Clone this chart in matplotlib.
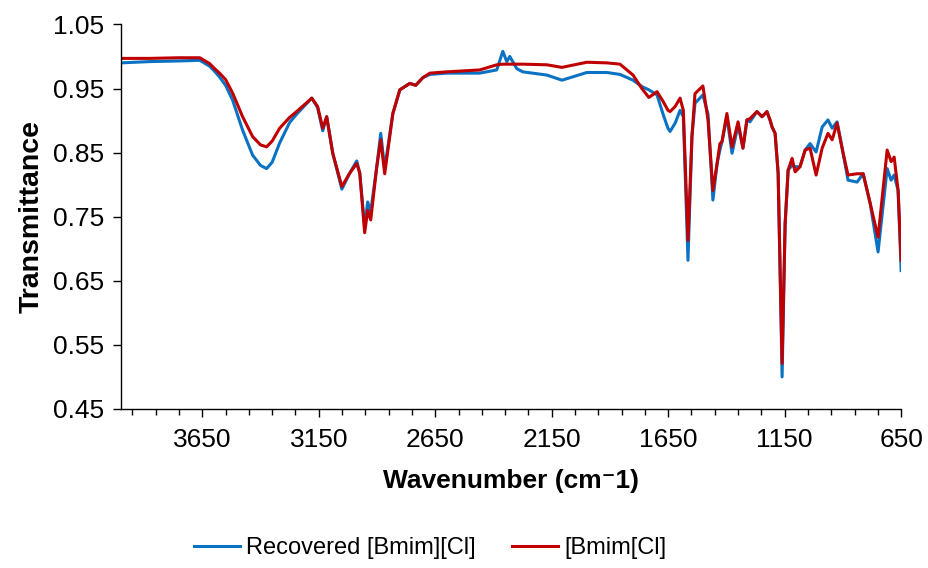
import matplotlib
matplotlib.use("Agg")
import matplotlib.pyplot as plt
from matplotlib.ticker import FixedLocator, FormatStrFormatter

plt.rcParams['font.family'] = ['Liberation Sans', 'DejaVu Sans']

wavenumber = [4000, 3876, 3750, 3661, 3619, 3600, 3576, 3550, 3520, 3477, 3434, 3400, 3374, 3350,
              3318, 3275,
              3245, 3180, 3155, 3133, 3116, 3090, 3051, 3017, 2987, 2974, 2953, 2940,
              2927, 2901, 2884, 2867, 2832, 2802, 2759, 2734, 2703, 2673, 2600, 2459,
              2386, 2360, 2343, 2330, 2300, 2274, 2171, 2106, 1999, 1913, 1857, 1801,
              1763, 1733, 1698, 1672, 1651, 1642, 1620, 1599, 1585, 1565, 1548, 1535,
              1501, 1479, 1458, 1440, 1428, 1419, 1398, 1376, 1350, 1329, 1312, 1299,
              1269, 1247, 1226, 1213, 1204, 1191, 1178, 1161, 1148, 1135, 1118, 1105,
              1084, 1062, 1041, 1015, 989, 964, 946, 925, 899, 878, 839, 813, 783, 749,
              710, 693, 680, 663, 650]

recovered = [0.990, 0.992, 0.993, 0.994, 0.985, 0.978, 0.968, 0.955, 0.932, 0.885, 0.846, 0.830,
             0.825, 0.835, 0.865, 0.897,
             0.910, 0.935, 0.920, 0.884, 0.906, 0.849, 0.793, 0.818, 0.837, 0.818, 0.734, 0.773,
             0.758, 0.828, 0.880, 0.825, 0.911, 0.948, 0.958, 0.955, 0.967, 0.972, 0.974, 0.974,
             0.979, 1.008, 0.992, 1.000, 0.981, 0.976, 0.971, 0.963, 0.975, 0.975, 0.972, 0.963,
             0.953, 0.948, 0.940, 0.910, 0.888, 0.883, 0.896, 0.916, 0.906, 0.682, 0.875, 0.927,
             0.940, 0.910, 0.776, 0.833, 0.854, 0.867, 0.906, 0.849, 0.893, 0.857, 0.901, 0.898,
             0.914, 0.906, 0.914, 0.901, 0.890, 0.880, 0.818, 0.500, 0.739, 0.823, 0.830, 0.828,
             0.828, 0.854, 0.864, 0.851, 0.890, 0.901, 0.888, 0.898, 0.849, 0.807, 0.804, 0.817,
             0.771, 0.695, 0.825, 0.807, 0.815, 0.791, 0.666]

bmim_cl = [0.997, 0.997, 0.998, 0.998, 0.989, 0.982, 0.974, 0.964, 0.943, 0.906, 0.875, 0.862,
           0.859, 0.868, 0.888, 0.905,
           0.914, 0.935, 0.922, 0.888, 0.906, 0.849, 0.797, 0.818, 0.833, 0.818, 0.725, 0.760,
           0.745, 0.828, 0.870, 0.817, 0.911, 0.948, 0.958, 0.955, 0.967, 0.974, 0.976, 0.979,
           0.987, 0.988, 0.988, 0.988, 0.988, 0.988, 0.987, 0.983, 0.991, 0.990, 0.988, 0.971,
           0.950, 0.936, 0.945, 0.930, 0.916, 0.914, 0.922, 0.935, 0.916, 0.713, 0.875, 0.942,
           0.954, 0.901, 0.791, 0.833, 0.864, 0.867, 0.911, 0.859, 0.898, 0.857, 0.901, 0.903,
           0.914, 0.906, 0.914, 0.901, 0.890, 0.880, 0.818, 0.521, 0.739, 0.823, 0.841, 0.820,
           0.828, 0.854, 0.857, 0.815, 0.857, 0.880, 0.870, 0.896, 0.849, 0.815, 0.817, 0.817,
           0.771, 0.718, 0.854, 0.836, 0.843, 0.791, 0.682]

series_labels = ["Recovered [Bmim][Cl]", "[Bmim[Cl]"]
x_major_ticks = [3650, 3150, 2650, 2150, 1650, 1150, 650]
y_ticks = [0.45, 0.55, 0.65, 0.75, 0.85, 0.95, 1.05]

fig = plt.figure(figsize=(9.29, 5.68), dpi=100)
ax = fig.add_axes([0.130, 0.280, 0.840, 0.677])

ax.plot(wavenumber, recovered, color='#0A72C2', lw=2.2, label=series_labels[0])
ax.plot(wavenumber, bmim_cl, color='#C00000', lw=2.2, label=series_labels[1])

ax.set_xlim(4000, 650)
ax.set_ylim(0.45, 1.05)
ax.xaxis.set_major_locator(FixedLocator(x_major_ticks))
ax.xaxis.set_minor_locator(FixedLocator(list(range(650, 4000, 100))))
ax.yaxis.set_major_locator(FixedLocator(y_ticks))
ax.yaxis.set_major_formatter(FormatStrFormatter('%.2f'))

for s in ['top', 'right']:
    ax.spines[s].set_visible(False)
for s in ['left', 'bottom']:
    ax.spines[s].set_color('black')
    ax.spines[s].set_linewidth(1.0)

ax.tick_params(axis='both', which='major', direction='out', length=6, width=1,
               labelsize=19, colors='black')
ax.tick_params(axis='x', which='major', pad=8)
ax.tick_params(axis='y', which='major', pad=6)
ax.tick_params(axis='x', which='minor', direction='out', length=4, width=1)
ax.tick_params(axis='y', which='minor', left=False)

ax.set_xlabel('Wavenumber (cm\u207b1)', fontsize=19, fontweight='bold', labelpad=12)
ax.set_ylabel('Transmittance', fontsize=20.5, fontweight='bold', labelpad=6)

fig.legend(loc='center', bbox_to_anchor=(0.463, 0.035), ncol=2, frameon=False,
           fontsize=17, handlelength=1.95, columnspacing=1.55, handletextpad=0.25)

fig.savefig('out.png', dpi=100)
